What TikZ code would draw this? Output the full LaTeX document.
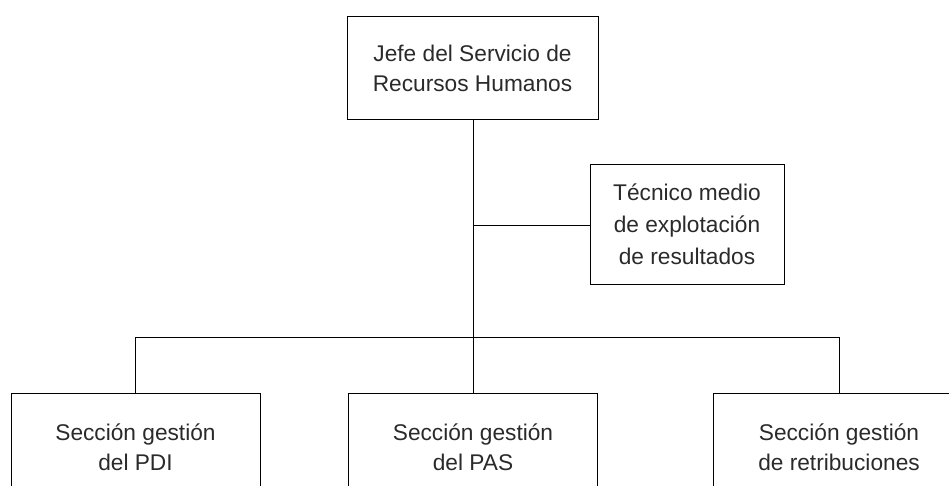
\documentclass[tikz,border=0pt]{standalone}
\usepackage{fontspec}
\setmainfont{Liberation Sans}
\definecolor{txt}{HTML}{2A2A2A}
\begin{document}
\begin{tikzpicture}[x=1pt,y=-1pt,
  box/.style={draw=black, line width=1pt, align=center, text=txt,
    font=\fontsize{22.7}{30}\selectfont, inner sep=0pt},
  conn/.style={draw=black, line width=1pt}]
\useasboundingbox (0,0) rectangle (949,486);
\clip (0,0) rectangle (949,486);
\node[box, minimum width=251pt, minimum height=103pt] (jefe) at (472.5,68.5)
  {Jefe del Servicio de\\Recursos Humanos};
\node[box, minimum width=194pt, minimum height=119pt,
  font=\fontsize{22.7}{32}\selectfont] (tec) at (687,224.5)
  {Técnico medio\\de explotación\\de resultados};
\node[box, minimum width=249pt, minimum height=108pt] (pdi) at (135.5,447)
  {Sección gestión\\del PDI};
\node[box, minimum width=249pt, minimum height=108pt] (pas) at (473,447)
  {Sección gestión\\del PAS};
\node[box, minimum width=252pt, minimum height=108pt] (ret) at (839,447)
  {Sección gestión\\de retribuciones};
\coordinate (bus) at (473,337);
\coordinate (tj) at (473,226);
\draw[conn] (jefe.south -| pas.north) -- (pas.north);
\draw[conn] (tj) -- (tj -| tec.west);
\draw[conn] (pdi.north) -- (pdi.north |- bus) -- (ret.north |- bus) -- (ret.north);
\end{tikzpicture}
\end{document}
